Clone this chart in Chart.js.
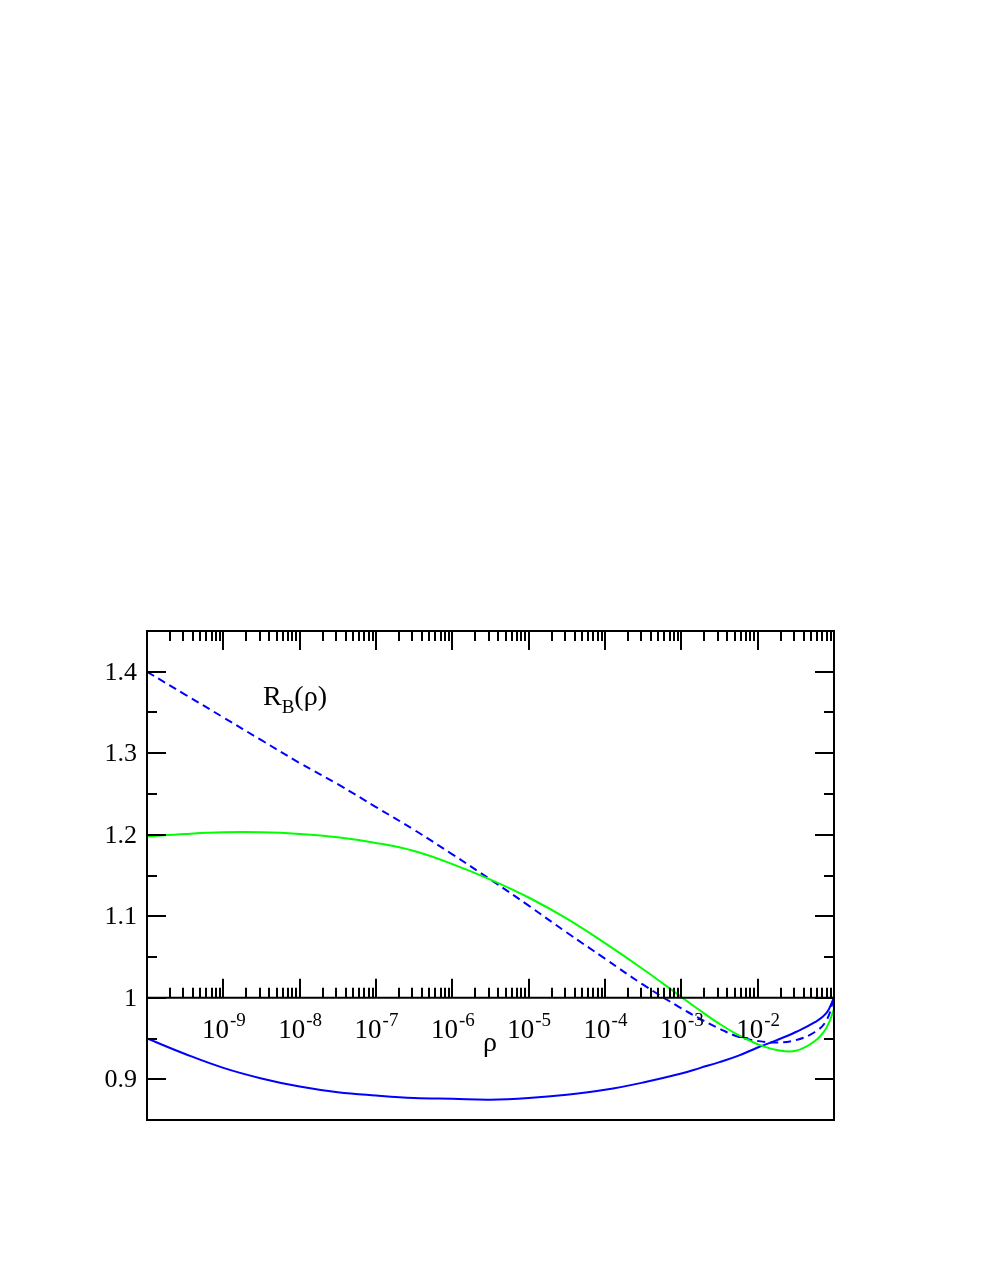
<!DOCTYPE html>
<html>
<head>
<meta charset="utf-8">
<script src="https://cdn.jsdelivr.net/npm/chart.js@4"></script>
<style>
  body { margin: 0; background: #fff; }
  #wrap { width: 981px; height: 1269px; position: relative; }
</style>
</head>
<body>
<div id="wrap"><canvas id="myChart"></canvas></div>
<script>
// rho values (log spaced)
const rho = [1e-10, 3.16e-10, 1e-9, 3.16e-9, 1e-8, 3.16e-8, 1e-7, 3.16e-7, 1e-6, 3.16e-6,
  1e-5, 3.16e-5, 1e-4, 3.16e-4, 1e-3, 1.78e-3, 3.16e-3, 5.62e-3, 1e-2, 1.78e-2,
  3.16e-2, 5.62e-2, 7.94e-2, 0.1]

const greenLine = [1.198, 1.201, 1.203, 1.203, 1.201, 1.197, 1.190, 1.180, 1.164, 1.145,
  1.123, 1.097, 1.067, 1.035, 1.001, 0.984, 0.968, 0.954, 0.943, 0.936,
  0.935, 0.947, 0.963, 0.986]

const blueDashed = [1.400, 1.372, 1.344, 1.316, 1.288, 1.262, 1.234, 1.206, 1.176, 1.145,
  1.113, 1.080, 1.048, 1.016, 0.987, 0.974, 0.962, 0.952, 0.947, 0.945,
  0.948, 0.958, 0.972, 1.000]

const blueSolid = [0.950, 0.931, 0.914, 0.901, 0.891, 0.884, 0.880, 0.877, 0.876, 0.875,
  0.877, 0.881, 0.887, 0.896, 0.907, 0.914, 0.921, 0.929, 0.939, 0.948,
  0.958, 0.970, 0.981, 1.000]

const xTickExps = [-9, -8, -7, -6, -5, -4, -3, -2]
const yTicks = [0.9, 1.0, 1.1, 1.2, 1.3, 1.4]
const yTickLabels = ['0.9', '1', '1.1', '1.2', '1.3', '1.4']
const yMinorTicks = [0.95, 1.05, 1.15, 1.25, 1.35]

const serif = '"Liberation Serif", "Times New Roman", serif'

const pts = (ys) => rho.map((x, i) => ({ x: x, y: ys[i] }))

// draws the frame, the axis at y = 1, ticks and labels
const axesPlugin = {
  id: 'axesPlugin',
  afterDatasetsDraw(chart) {
    const { ctx, chartArea: a, scales } = chart
    const xs = scales.x, ys = scales.y
    const y1 = ys.getPixelForValue(1.0)
    ctx.save()
    ctx.strokeStyle = '#000'
    ctx.lineWidth = 2
    ctx.strokeRect(a.left, a.top, a.right - a.left, a.bottom - a.top)

    ctx.beginPath()
    ctx.moveTo(a.left, y1)
    ctx.lineTo(a.right, y1)
    ctx.stroke()

    // x ticks: top border (pointing down) and y = 1 axis (pointing up)
    ctx.beginPath()
    for (let d = -10; d <= -2; d++) {
      for (let k = 1; k <= 9; k++) {
        const v = k * Math.pow(10, d)
        if (v <= 1e-10 * 1.001) continue
        const px = Math.round(xs.getPixelForValue(v))
        const len = k === 1 ? 19 : 10
        ctx.moveTo(px, a.top)
        ctx.lineTo(px, a.top + len)
        ctx.moveTo(px, y1)
        ctx.lineTo(px, y1 - len)
      }
    }
    // y ticks on both sides
    yTicks.forEach(v => {
      const py = Math.round(ys.getPixelForValue(v))
      ctx.moveTo(a.left, py); ctx.lineTo(a.left + 19, py)
      ctx.moveTo(a.right, py); ctx.lineTo(a.right - 19, py)
    })
    yMinorTicks.forEach(v => {
      const py = Math.round(ys.getPixelForValue(v))
      ctx.moveTo(a.left, py); ctx.lineTo(a.left + 10, py)
      ctx.moveTo(a.right, py); ctx.lineTo(a.right - 10, py)
    })
    ctx.stroke()

    // y tick labels
    ctx.fillStyle = '#000'
    ctx.font = '26px ' + serif
    ctx.textAlign = 'right'
    ctx.textBaseline = 'middle'
    yTicks.forEach((v, i) => {
      ctx.fillText(yTickLabels[i], a.left - 10, ys.getPixelForValue(v) + 1)
    })

    // x tick labels 10^n
    ctx.textAlign = 'left'
    ctx.textBaseline = 'alphabetic'
    xTickExps.forEach(e => {
      const px = xs.getPixelForValue(Math.pow(10, e))
      ctx.font = '27px ' + serif
      const wb = ctx.measureText('10').width
      ctx.font = '19px ' + serif
      const we = ctx.measureText(String(e)).width
      const x0 = px - (wb + we) / 2
      ctx.font = '27px ' + serif
      ctx.fillText('10', x0, y1 + 40)
      ctx.font = '19px ' + serif
      ctx.fillText(String(e), x0 + wb + 1, y1 + 28)
    })

    // axis title
    ctx.font = '28px ' + serif
    ctx.textAlign = 'center'
    ctx.fillText('ρ', 490, y1 + 53)

    // curve label R_B(rho)
    ctx.textAlign = 'left'
    ctx.font = '28px ' + serif
    ctx.fillText('R', 263, 705)
    const wR = ctx.measureText('R').width
    ctx.font = '19px ' + serif
    ctx.fillText('B', 263 + wR, 713)
    const wB = ctx.measureText('B').width
    ctx.font = '28px ' + serif
    ctx.fillText('(ρ)', 263 + wR + wB, 705)
    ctx.restore()
  }
}

const ctx = document.getElementById('myChart')

new Chart(ctx, {
  type: 'line',
  data: {
    datasets: [{
      label: 'green',
      data: pts(greenLine),
      borderColor: '#00ff00',
      borderWidth: 2,
      pointRadius: 0,
      tension: 0.4
    }, {
      label: 'blue dashed',
      data: pts(blueDashed),
      borderColor: '#0000ff',
      borderWidth: 2,
      borderDash: [8, 5],
      pointRadius: 0,
      tension: 0.4
    }, {
      label: 'blue solid',
      data: pts(blueSolid),
      borderColor: '#0000ff',
      borderWidth: 2,
      pointRadius: 0,
      tension: 0.4
    }]
  },
  options: {
    responsive: true,
    maintainAspectRatio: false,
    animation: false,
    events: [],
    layout: { padding: { left: 147, right: 147, top: 631, bottom: 149 } },
    plugins: { legend: { display: false }, tooltip: { enabled: false } },
    scales: {
      x: { type: 'logarithmic', min: 1e-10, max: 0.1, display: false },
      y: { type: 'linear', min: 0.85, max: 1.45, display: false }
    }
  },
  plugins: [axesPlugin]
})
</script>
</body>
</html>
